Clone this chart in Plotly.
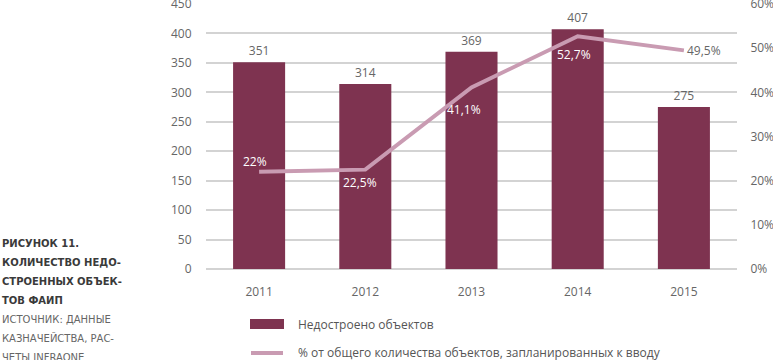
import plotly.graph_objects as go

years = ["2011", "2012", "2013", "2014", "2015"]
unfinished = [351, 314, 369, 407, 275]
share_pct = [22, 22.5, 41.1, 52.7, 49.5]

bar_name = "Недостроено объектов"
line_name = "% от общего количества объектов, запланированных к вводу"
caption_bold = ["РИСУНОК 11.", "КОЛИЧЕСТВО НЕДО-", "СТРОЕННЫХ ОБЪЕК-", "ТОВ ФАИП"]
caption_reg = ["ИСТОЧНИК: ДАННЫЕ", "КАЗНАЧЕЙСТВА, РАС-", "ЧЕТЫ INFRAONE"]

W, H = 773, 360
ML, MR, MT, MB = 206, 36, 4, 91
PW, PH = W - ML - MR, H - MT - MB

BAR_COLOR = "#7e3350"
LINE_COLOR = "#c99bb2"
GRID = "#d3d3d3"
TXT = "#666666"
FONT = "Open Sans"


def px(x):
    return (x - ML) / PW


def py(y):
    return (H - MB - y) / PH


fig = go.Figure()
fig.add_trace(go.Bar(
    x=years, y=unfinished, name=bar_name, marker_color=BAR_COLOR,
    marker_line_width=0,
    text=[str(v) for v in unfinished], textposition="outside",
    textfont=dict(family=FONT, size=12, color=TXT), cliponaxis=False,
    showlegend=False,
))
fig.add_trace(go.Scatter(
    x=years, y=share_pct, name=line_name, yaxis="y2", mode="lines",
    line=dict(color=LINE_COLOR, width=4), showlegend=False,
))

# percent labels (offsets / colours are styling)
offsets = [(-4, 10, "white"), (-5, -13, "white"), (-8, -22, "white"),
           (-4, -18, "white"), (20, 0, TXT)]
for i, (v, (dx, dy, col)) in enumerate(zip(share_pct, offsets)):
    fig.add_annotation(
        x=i, y=v, yref="y2", text=f"{v:g}".replace(".", ",") + "%",
        showarrow=False, xshift=dx, yshift=dy,
        font=dict(family=FONT, size=12, color=col),
    )

# caption on the left
ys = [243, 262, 281, 300, 319, 338, 357]
lines = [(t, True) for t in caption_bold] + [(t, False) for t in caption_reg]
for (t, bold), yy in zip(lines, ys):
    fig.add_annotation(
        xref="paper", yref="paper", x=px(0), y=py(yy), xanchor="left",
        yanchor="middle", showarrow=False,
        text=f"<b>{t}</b>" if bold else t,
        font=dict(family="DejaVu Sans", size=10,
                  color="#3a3a3a" if bold else TXT),
    )

# manual legend
fig.add_shape(type="rect", xref="paper", yref="paper",
              x0=px(250), x1=px(284), y0=py(329), y1=py(319),
              fillcolor=BAR_COLOR, line_width=0)
fig.add_shape(type="line", xref="paper", yref="paper",
              x0=px(251), x1=px(283), y0=py(353), y1=py(353),
              line=dict(color=LINE_COLOR, width=4))
for t, yy in [(bar_name, 324), (line_name, 352)]:
    fig.add_annotation(
        xref="paper", yref="paper", x=px(296), y=py(yy), xanchor="left",
        yanchor="middle", showarrow=False, text=t,
        font=dict(family=FONT, size=12, color="#555555"),
    )

fig.update_layout(
    width=W, height=H,
    margin=dict(l=ML, r=MR, t=MT, b=MB, autoexpand=False),
    paper_bgcolor="white", plot_bgcolor="white",
    bargap=0.51, showlegend=False,
    font=dict(family=FONT, size=12, color=TXT),
    xaxis=dict(type="category", range=[-0.5, 4.5], autorange=False,
               showgrid=False, showline=False, automargin=False,
               ticks="outside", ticklen=12, tickcolor="rgba(0,0,0,0)",
               tickfont=dict(family=FONT, size=12, color=TXT)),
    yaxis=dict(range=[0, 450], dtick=50, showgrid=True, gridcolor=GRID,
               gridwidth=2, zeroline=True, zerolinecolor=GRID, zerolinewidth=2,
               showline=False, ticks="outside", ticklen=11, automargin=False,
               tickcolor="rgba(0,0,0,0)", ticklabeloverflow="allow",
               tickfont=dict(family=FONT, size=12, color=TXT)),
    yaxis2=dict(range=[0, 60], dtick=10, ticksuffix="%", overlaying="y",
                side="right", showgrid=False, zeroline=False, showline=False,
                ticks="outside", ticklen=10, tickcolor="rgba(0,0,0,0)",
                ticklabeloverflow="allow", automargin=False,
                tickfont=dict(family=FONT, size=12, color=TXT)),
)

fig.write_html("out.html", config={"displayModeBar": False},
               post_script="document.body.style.margin='0';document.body.style.overflow='hidden';")
